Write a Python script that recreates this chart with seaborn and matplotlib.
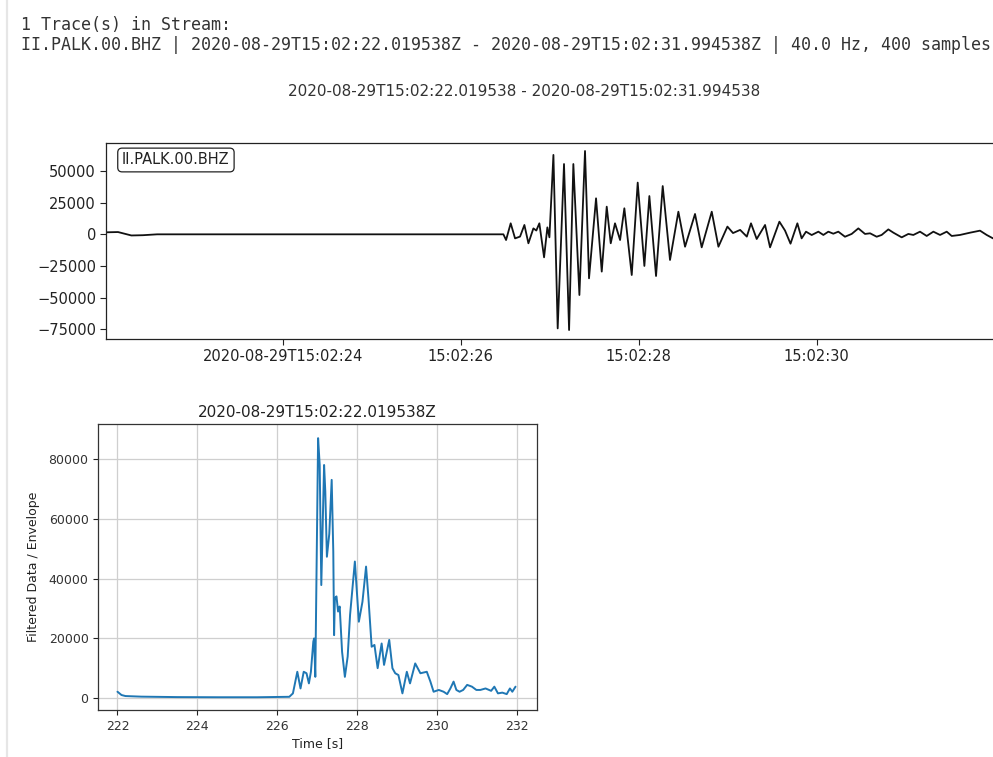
import numpy as np
import pandas as pd
import matplotlib
matplotlib.use("Agg")
import matplotlib.pyplot as plt
from matplotlib.lines import Line2D
import seaborn as sns

# ---------------- data ----------------
header_lines = [
    "1 Trace(s) in Stream:",
    "II.PALK.00.BHZ | 2020-08-29T15:02:22.019538Z - 2020-08-29T15:02:31.994538Z | 40.0 Hz, 400 samples",
]
suptitle_text = "2020-08-29T15:02:22.019538 - 2020-08-29T15:02:31.994538"
trace_label = "II.PALK.00.BHZ"

# waveform: seconds after 15:02:00, counts
wave_t = [22.020, 22.150, 22.300, 22.430, 22.590, 26.480, 26.510, 26.562, 26.611, 26.667,
          26.716, 26.761, 26.817, 26.850, 26.884, 26.937, 26.974, 26.997, 27.042, 27.090,
          27.161, 27.218, 27.266, 27.334, 27.397, 27.442, 27.521, 27.585, 27.641, 27.686,
          27.734, 27.791, 27.839, 27.922, 27.989, 28.064, 28.120, 28.195, 28.270, 28.352,
          28.446, 28.521, 28.633, 28.708, 28.821, 28.896, 28.997, 29.060, 29.140, 29.215,
          29.262, 29.326, 29.420, 29.476, 29.581, 29.644, 29.706, 29.783, 29.831, 29.880,
          29.944, 30.019, 30.075, 30.131, 30.187, 30.243, 30.318, 30.393, 30.468, 30.543,
          30.600, 30.674, 30.730, 30.805, 30.862, 30.955, 31.030, 31.086, 31.161, 31.236,
          31.311, 31.386, 31.461, 31.517, 31.610, 31.723, 31.835, 31.910, 31.981]
wave_amp = [1600, 1800, -900, -700, 0, 0, -4500, 8700, -3200, -1800,
            7400, -7100, 4700, 3000, 8700, -18200, 5500, -2400, 62800, -74400,
            55600, -75700, 55600, -48000, 65900, -34800, 28500, -29500, 21900, -7100,
            8700, -4500, 20600, -32200, 40900, -25000, 30300, -33000, 38200, -20300,
            17900, -9800, 16100, -10300, 17900, -9800, 6100, 1000, 3500, -1800,
            8700, -3700, 7400, -10300, 10000, 3000, -7400, 8700, -3200, 2100,
            -550, 2100, -500, 2100, 500, 2100, -1900, 300, 4700, 300,
            800, -1900, -500, 3900, 1300, -2400, 300, -500, 2100, -1300,
            2100, -500, 2100, -1300, -500, 1300, 2900, -500, -3200]
wave_ticks = [24, 26, 28, 30]
wave_ticklabels = ["2020-08-29T15:02:24", "15:02:26", "15:02:28", "15:02:30"]
wave_yticks = [-75000, -50000, -25000, 0, 25000, 50000]

# envelope: time [s], amplitude
env_t = [222.00, 222.10, 222.20, 222.60, 223.50, 224.50, 225.50, 226.30, 226.39, 226.50,
         226.58, 226.66, 226.73, 226.79, 226.84, 226.90, 226.92, 226.95, 227.02, 227.06,
         227.10, 227.17, 227.20, 227.24, 227.30, 227.36, 227.40, 227.42, 227.44, 227.48,
         227.52, 227.56, 227.62, 227.69, 227.76, 227.82, 227.94, 228.04, 228.13, 228.22,
         228.28, 228.36, 228.43, 228.51, 228.61, 228.67, 228.80, 228.88, 228.95, 229.03,
         229.13, 229.24, 229.32, 229.45, 229.58, 229.74, 229.83, 229.91, 230.04, 230.16,
         230.25, 230.33, 230.41, 230.48, 230.56, 230.65, 230.75, 230.87, 230.98, 231.08,
         231.21, 231.35, 231.43, 231.52, 231.63, 231.74, 231.82, 231.88, 231.96]
env_amp = [2000, 900, 550, 350, 200, 150, 150, 300, 1450, 8700,
           3100, 8700, 8200, 4800, 8700, 18800, 19900, 7000, 87100, 78100,
           37800, 78100, 69200, 47300, 55000, 73100, 49000, 21000, 33400, 34000,
           28900, 30600, 15400, 7000, 13800, 27800, 45700, 25500, 32200, 44000,
           33400, 17100, 17700, 9900, 18200, 11000, 19400, 9900, 8200, 7600,
           1450, 8700, 4800, 11500, 8200, 8700, 5400, 2000, 2600, 2000,
           1200, 3100, 5400, 2600, 2000, 2600, 4300, 3700, 2600, 2600,
           3100, 2300, 3700, 1450, 1700, 1200, 3100, 2000, 3700]
env_title = "2020-08-29T15:02:22.019538Z"
env_xticks = [222, 224, 226, 228, 230, 232]
env_yticks = [0, 20000, 40000, 60000, 80000]

# ---------------- style ----------------
sns.set_theme(style="ticks")
plt.rcParams["font.family"] = ["DejaVu Sans"]
plt.rcParams["axes.edgecolor"] = "#222222"
plt.rcParams["text.color"] = "#222222"
plt.rcParams["xtick.color"] = "#222222"
plt.rcParams["ytick.color"] = "#222222"
plt.rcParams["axes.labelcolor"] = "#222222"

W, H = 993, 757
fig = plt.figure(figsize=(W / 100, H / 100), dpi=100)
fig.patch.set_facecolor("white")

def fx(px):
    return px / W

def fy(py):
    return 1 - py / H

# jupyter-like left border
fig.add_artist(Line2D([fx(7), fx(7)], [0, 1], color="#e6e6e6", lw=1.6))

# header text
fig.text(fx(21), fy(30), header_lines[0], family="DejaVu Sans Mono", fontsize=12,
         va="baseline", ha="left", color="#333333")
fig.text(fx(21), fy(49.5), header_lines[1], family="DejaVu Sans Mono", fontsize=12,
         va="baseline", ha="left", color="#333333")
fig.text(fx(524), fy(92), suptitle_text, fontsize=11, ha="center", va="center",
         color="#333333")

# ---------------- top: waveform ----------------
ax1 = fig.add_axes([fx(106.4), fy(339), fx(994.2) - fx(106.4), fy(143.3) - fy(339)])
wave_df = pd.DataFrame({"t": wave_t, "amp": wave_amp})
sns.lineplot(data=wave_df, x="t", y="amp", ax=ax1, color="#111111", lw=1.3,
             estimator=None, sort=False)
ax1.set_xlim(22.0195, 31.9945)
ax1.set_ylim(-82800, 72000)
ax1.set_xticks(wave_ticks)
ax1.set_xticklabels(wave_ticklabels)
ax1.set_yticks(wave_yticks)
ax1.tick_params(labelsize=10.5, length=4, width=0.8, direction="out")
ax1.set_xlabel("")
ax1.set_ylabel("")
for s in ax1.spines.values():
    s.set_visible(True)
    s.set_linewidth(0.9)
ax1.text(0.0177, 0.953, trace_label, transform=ax1.transAxes, ha="left", va="top",
         fontsize=10.5, color="#222222",
         bbox=dict(boxstyle="round,pad=0.3", fc="white", ec="#222222", lw=0.9))

# ---------------- bottom: envelope ----------------
ax2 = fig.add_axes([fx(98.3), fy(710), fx(536.7) - fx(98.3), fy(424.3) - fy(710)])
env_df = pd.DataFrame({"t": env_t, "amp": env_amp})
sns.lineplot(data=env_df, x="t", y="amp", ax=ax2, color="#1f77b4", lw=1.4,
             estimator=None, sort=False)
ax2.set_xlim(221.52, 232.49)
ax2.set_ylim(-4130, 91750)
ax2.set_xticks(env_xticks)
ax2.set_yticks(env_yticks)
ax2.grid(True, color="#cfcfcf", lw=0.9)
ax2.set_axisbelow(True)
ax2.tick_params(labelsize=9, length=3.5, width=0.8, direction="out",
                labelcolor="#333333")
ax2.set_title(env_title, fontsize=11, pad=5)
ax2.set_xlabel("Time [s]", fontsize=9, labelpad=3)
ax2.set_ylabel("Filtered Data / Envelope", fontsize=9, labelpad=6)
for s in ax2.spines.values():
    s.set_visible(True)
    s.set_linewidth(0.9)
    s.set_color("#333333")

fig.savefig("out.png", dpi=100, facecolor="white")
